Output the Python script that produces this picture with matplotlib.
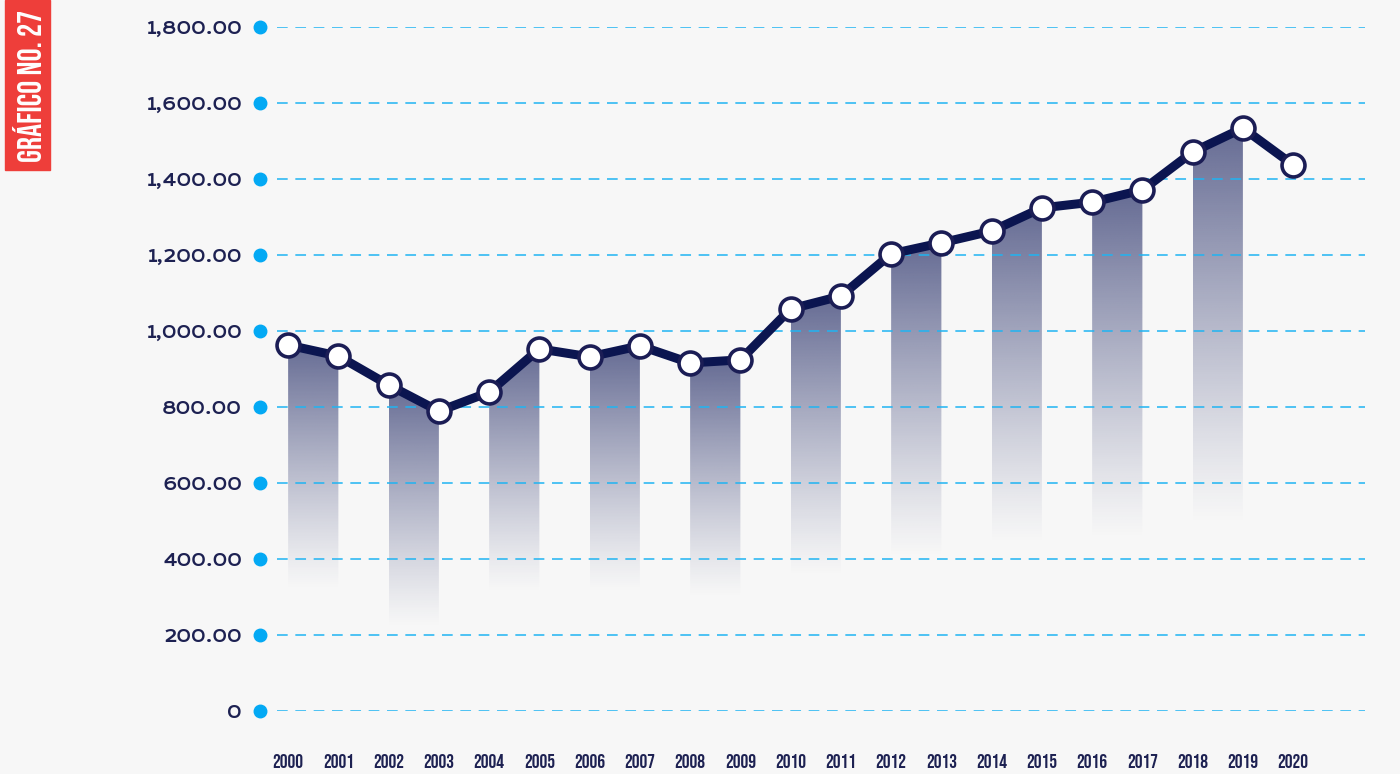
import numpy as np
import matplotlib
matplotlib.use("Agg")
import matplotlib.pyplot as plt
from matplotlib.patches import Polygon, Rectangle
from matplotlib import font_manager as fm

years = list(range(2000, 2021))
values = [963, 934, 858, 789, 839, 953, 932, 961, 916, 924, 1058,
          1092, 1203, 1232, 1263, 1324, 1339, 1371, 1471, 1534, 1437]
# where each shaded band fades out (pairs 2000-01, 2002-03, ...)
fade_ends = [318, 218, 311, 311, 297, 353, 403, 437, 450, 489]
yticks = [0, 200, 400, 600, 800, 1000, 1200, 1400, 1600, 1800]
ytick_labels = ["0", "200.00", "400.00", "600.00", "800.00", "1,000.00",
                "1,200.00", "1,400.00", "1,600.00", "1,800.00"]

installed = {f.name for f in fm.fontManager.ttflist}

def pick(*names):
    fams = [n for n in names if n in installed]
    return fams + ["DejaVu Sans"]

cond_font = pick("Bebas Neue", "Fjalla One", "Oswald")
wide_font = pick("Krona One", "Michroma", "Syncopate")

bg = "#f7f7f7"
navy = "#0b1550"
label_col = "#1d2152"
grid_col = "#1fb4f2"

fig = plt.figure(figsize=(14, 7.74), dpi=100, facecolor=bg)
ax = fig.add_axes([0.1857, 0.0814, 0.975 - 0.1857, 0.8837])
ax.set_facecolor(bg)
ax.set_xlim(1999.44, 2021.43)
ax.set_ylim(0, 1800)
for s in ax.spines.values():
    s.set_visible(False)

# gradient bands under pairs of years
grad = np.linspace(0, 1, 256).reshape(-1, 1)
rgba = np.zeros((256, 1, 4))
rgba[..., 0] = 26 / 255
rgba[..., 1] = 35 / 255
rgba[..., 2] = 96 / 255
rgba[..., 3] = 0.66 * (1 - grad) ** 1.15
for k, bottom in enumerate(fade_ends):
    i = 2 * k
    x0, x1 = years[i], years[i + 1]
    y0, y1 = values[i], values[i + 1]
    poly = Polygon([(x0, bottom), (x0, y0), (x1, y1), (x1, bottom)],
                   closed=True, facecolor="none", edgecolor="none")
    ax.add_patch(poly)
    im = ax.imshow(rgba, extent=[x0, x1, bottom, max(y0, y1)], origin="upper",
                   aspect="auto", zorder=1, interpolation="bilinear")
    im.set_clip_path(poly)

# dashed grid + dots
for t in yticks:
    ax.axhline(t, color=grid_col, lw=1.1, ls=(0, (7, 5)), zorder=2,
               xmin=0.015, xmax=1)
ax.plot([1999.44] * len(yticks), yticks, "o", color="#03a9f4",
        ms=9, clip_on=False, zorder=3)
ax.set_xlim(1999.44, 2021.43)

ax.plot(years, values, color=navy, lw=6.5, zorder=4, solid_joinstyle="round")
ax.plot(years, values, "o", ms=16.5, mfc="white", mec="#1b1d55", mew=2.6,
        zorder=5)

ax.set_yticks(yticks)
ax.set_yticklabels(ytick_labels, fontsize=11.5, fontweight="bold",
                   color=label_col, family=wide_font)
ax.tick_params(axis="y", length=0, pad=13)
ax.set_xticks(years)
ax.set_xticklabels([str(y) for y in years], fontsize=14, fontweight="bold",
                   color=label_col, family=cond_font)
ax.tick_params(axis="x", length=0, pad=31)

# red tag
fig.patches.append(Rectangle((5 / 1400, 1 - 170 / 774), 45 / 1400, 170 / 774,
                             transform=fig.transFigure, color="#ee3e3a"))
fig.text(28 / 1400, 1 - 86 / 774, "GRÁFICO NO. 27", rotation=90,
         ha="center", va="center", color="white", fontsize=23.5,
         fontweight="bold", family=cond_font)

fig.savefig("out.png", dpi=100, facecolor=bg)
